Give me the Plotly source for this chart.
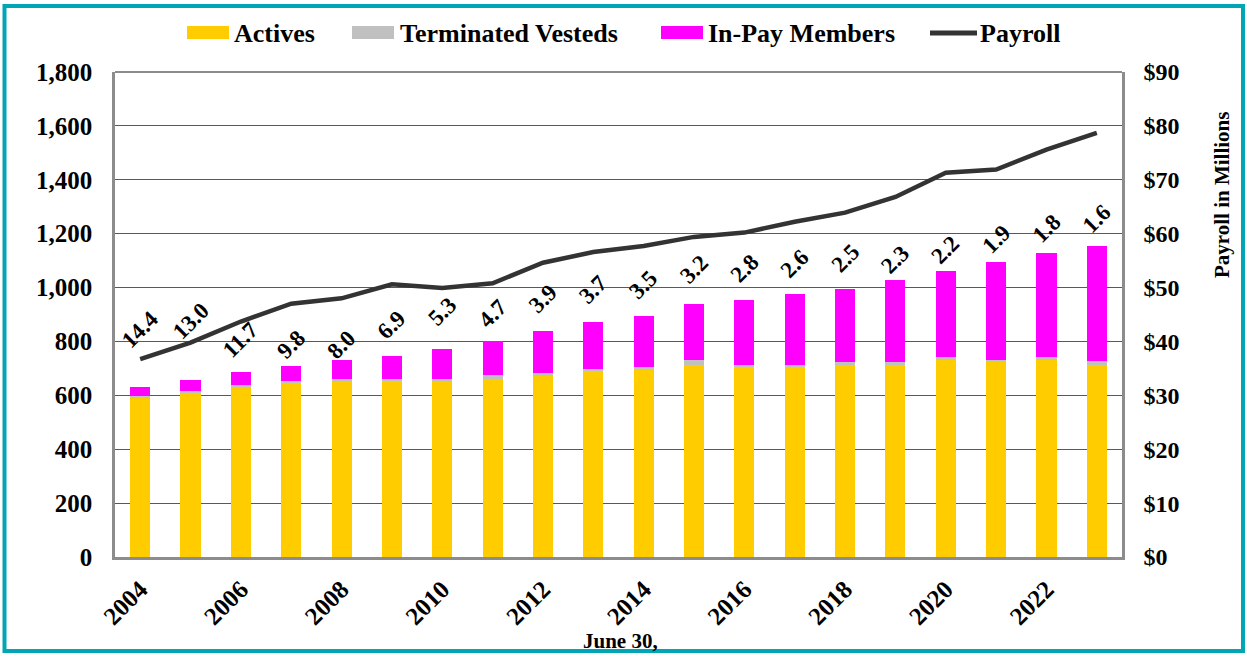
import plotly.graph_objects as go

# June 30 valuation years
years = list(range(2004, 2024))

# member counts (left axis)
actives = [590, 611, 633, 646, 651, 652, 651, 662, 670, 691,
           695, 714, 705, 705, 713, 714, 732, 722, 730, 714]
term_vested = [9, 6, 7, 6, 10, 9, 10, 12, 13, 8,
               11, 18, 8, 9, 9, 10, 10, 11, 11, 12]
in_pay = [33, 40, 48, 58, 71, 86, 112, 128, 157, 175,
          187, 208, 242, 262, 272, 305, 320, 362, 389, 428]

# payroll in $ millions (right axis)
payroll = [36.7, 39.8, 43.7, 47.0, 48.0, 50.6, 49.9, 50.8, 54.6, 56.6,
           57.7, 59.4, 60.2, 62.2, 63.9, 66.8, 71.3, 71.9, 75.6, 78.7]

# actives per in-pay member labels and where they sit (left-axis units)
ratio_labels = ["14.4", "13.0", "11.7", "9.8", "8.0", "6.9", "5.3", "4.7", "3.9", "3.7",
                "3.5", "3.2", "2.8", "2.6", "2.5", "2.3", "2.2", "1.9", "1.8", "1.6"]
label_height = [843, 874, 806, 788, 788, 862, 911, 905, 961, 991,
                1010, 1066, 1072, 1090, 1109, 1103, 1140, 1179, 1220, 1257]

left_ticks = list(range(0, 1801, 200))
right_ticks = list(range(0, 91, 10))
right_text = ["&#36;%d" % v for v in right_ticks]

series_names = ["Actives", "Terminated Vesteds", "In-Pay Members", "Payroll"]
series_colors = ["#FFCC00", "#C0C0C0", "#FF00FF", "#333333"]

FONT = "Liberation Serif"
GRID = "#595959"
AXIS = "#8c8c8c"

# plot area in page pixels, used to place the hand-made legend and frame
PX_L, PX_R, PX_T, PX_B = 115, 1122, 72, 557


def px_x(px):
    return (px - PX_L) / (PX_R - PX_L)


def px_y(py):
    return (PX_B - py) / (PX_B - PX_T)


fig = go.Figure()
fig.add_trace(go.Bar(x=years, y=actives, name=series_names[0], marker=dict(color=series_colors[0], line_width=0)))
fig.add_trace(go.Bar(x=years, y=term_vested, name=series_names[1], marker=dict(color=series_colors[1], line_width=0)))
fig.add_trace(go.Bar(x=years, y=in_pay, name=series_names[2], marker=dict(color=series_colors[2], line_width=0)))
fig.add_trace(go.Scatter(x=years, y=payroll, name=series_names[3], mode="lines", yaxis="y2",
                         line=dict(color=series_colors[3], width=4.5)))

annotations = []
for yr, txt, h in zip(years, ratio_labels, label_height):
    annotations.append(dict(x=yr, y=h, xref="x", yref="y", text="<b>%s</b>" % txt, showarrow=False,
                            textangle=-45, font=dict(family=FONT, size=23, color="black")))

annotations.append(dict(x=px_x(620), y=px_y(641), xref="paper", yref="paper", text="<b>June 30,</b>",
                        showarrow=False, xanchor="center", yanchor="middle",
                        font=dict(family=FONT, size=21, color="black")))
annotations.append(dict(x=px_x(1222), y=px_y(195), xref="paper", yref="paper", text="<b>Payroll in Millions</b>",
                        showarrow=False, textangle=-90, xanchor="center", yanchor="middle",
                        font=dict(family=FONT, size=21, color="black")))

# legend drawn by hand: wide swatches like the original
shapes = []
legend_swatch = [(187, 229), (352, 394), (661, 703), (930, 977)]
legend_text_x = [232, 398, 706, 978]
for i, name in enumerate(series_names):
    x0, x1 = legend_swatch[i]
    if name == "Payroll":
        shapes.append(dict(type="line", xref="paper", yref="paper",
                           x0=px_x(x0), x1=px_x(x1), y0=px_y(33), y1=px_y(33),
                           line=dict(color=series_colors[i], width=5)))
    else:
        shapes.append(dict(type="rect", xref="paper", yref="paper",
                           x0=px_x(x0), x1=px_x(x1), y0=px_y(39), y1=px_y(26),
                           fillcolor=series_colors[i], line_width=0))
    annotations.append(dict(x=px_x(legend_text_x[i]), y=px_y(33), xref="paper", yref="paper",
                            text="<b>%s</b>" % name, showarrow=False, xanchor="left", yanchor="middle",
                            font=dict(family=FONT, size=26, color="black")))

shapes.append(dict(type="line", xref="paper", yref="paper", x0=0, x1=1, y0=1, y1=1,
                   line=dict(color=AXIS, width=2)))
shapes.append(dict(type="rect", xref="paper", yref="paper",
                   x0=px_x(4.5), x1=px_x(1243), y0=px_y(651), y1=px_y(6),
                   line=dict(color="#00A6B5", width=4)))

fig.update_layout(
    width=1247, height=656,
    barmode="stack", bargap=0.6,
    plot_bgcolor="white", paper_bgcolor="white",
    margin=dict(l=PX_L, r=1247 - PX_R, t=PX_T, b=656 - PX_B, autoexpand=False),
    font=dict(family=FONT, color="black"),
    showlegend=False,
    annotations=annotations,
    shapes=shapes,
    xaxis=dict(range=[2003.5, 2023.5], tickvals=years[::2], tickangle=-45,
               tickfont=dict(family=FONT, size=25, weight="bold"), automargin=False,
               showgrid=False, showline=True, linecolor=AXIS, linewidth=2.5, zeroline=False,
               ticklabelstandoff=5),
    yaxis=dict(range=[0, 1800], tickvals=left_ticks, tickformat=",", automargin=False,
               tickfont=dict(family=FONT, size=25, weight="bold"),
               showgrid=True, gridcolor=GRID, gridwidth=1.3,
               showline=True, linecolor=AXIS, linewidth=2.5, zeroline=False,
               ticklabelstandoff=15),
    yaxis2=dict(range=[0, 90], tickvals=right_ticks, ticktext=right_text,
                overlaying="y", side="right", automargin=False,
                tickfont=dict(family=FONT, size=24, weight="bold"),
                showgrid=False, showline=True, linecolor=AXIS, linewidth=2.5, zeroline=False,
                ticklabelstandoff=14),
)

# the page's default body margin would shift the figure by 8px
fig.write_html("out.html", config={"displayModeBar": False},
               post_script="document.body.style.margin='0';")
